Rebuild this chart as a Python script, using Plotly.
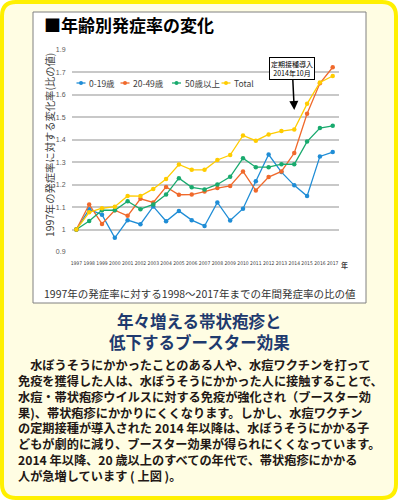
import plotly.graph_objects as go

# ---------------- data ----------------
years = list(range(1997, 2018))
age_0_19 = [1.0, 1.09, 1.066, 0.963, 1.042, 1.024, 1.103, 1.037, 1.083, 1.042, 1.016,
            1.121, 1.04, 1.093, 1.215, 1.334, 1.256, 1.197, 1.149, 1.326, 1.345]
age_20_49 = [1.0, 1.112, 1.025, 1.086, 1.061, 1.137, 1.121, 1.19, 1.155, 1.156, 1.169,
             1.185, 1.194, 1.259, 1.174, 1.234, 1.259, 1.341, 1.516, 1.652, 1.723]
age_50_plus = [1.0, 1.038, 1.086, 1.086, 1.126, 1.091, 1.112, 1.156, 1.229, 1.188, 1.179,
               1.201, 1.235, 1.318, 1.278, 1.278, 1.291, 1.291, 1.392, 1.452, 1.462]
total = [1.0, 1.077, 1.095, 1.102, 1.15, 1.149, 1.181, 1.225, 1.29, 1.266, 1.266,
         1.31, 1.332, 1.419, 1.396, 1.424, 1.439, 1.446, 1.56, 1.655, 1.684]
series_names = ["0-19歳", "20-49歳", "50歳以上", "Total"]
series_values = [age_0_19, age_20_49, age_50_plus, total]
series_colors = ["#1F8DD6", "#F0692B", "#19AA6E", "#FFCC00"]
y_tick_vals = [0.9, 1.0, 1.1, 1.2, 1.3, 1.4, 1.5, 1.6, 1.7, 1.8]
y_tick_text = ["0.9", "1", "1.1", "1.2", "1.3", "1.4", "1.5", "1.6", "1.7", "1.9"]
x_tick_text = [str(y) for y in years]
marker_year = 2014
marker_value = 1.533

title_text = "■年齢別発症率の変化"
y_title = "1997年の発症率に対する変化率(比の値)"
caption = "1997年の発症率に対する1998～2017年までの年間発症率の比の値"
heading_lines = ["年々増える帯状疱疹と", "低下するブースター効果"]
body_lines = [
    "　水ぼうそうにかかったことのある人や、水痘ワクチンを打って",
    "免疫を獲得した人は、水ぼうそうにかかった人に接触することで、",
    "水痘・帯状疱疹ウイルスに対する免疫が強化され（ブースター効",
    "果)、帯状疱疹にかかりにくくなります。しかし、水痘ワクチン",
    "の定期接種が導入された 2014 年以降は、水ぼうそうにかかる子",
    "どもが劇的に減り、ブースター効果が得られにくくなっています。",
    "2014 年以降、20 歳以上のすべての年代で、帯状疱疹にかかる",
    "人が急増しています ( 上図 )。",
]

# ---------------- layout helpers ----------------
W, H = 398, 500
L, R, T, B = 72, 339, 50, 252
JP = "Noto Sans CJK JP"


def xp(px):
    return (px - L) / (R - L)


def yp(py):
    return (B - py) / (B - T)


fig = go.Figure()
for name, vals, col in zip(series_names, series_values, series_colors):
    fig.add_trace(go.Scatter(
        x=years, y=vals, name=name, mode="lines+markers",
        line=dict(color=col, width=1.3),
        marker=dict(color=col, size=4.5, symbol="circle"),
        showlegend=False,
    ))

shapes = []
# outer rounded yellow frame
x0, x1, y0, y1, r = 2, 396, 2, 498, 14
pts = [("M", x0 + r, y0), ("L", x1 - r, y0), ("Q", x1, y0, x1, y0 + r), ("L", x1, y1 - r),
       ("Q", x1, y1, x1 - r, y1), ("L", x0 + r, y1), ("Q", x0, y1, x0, y1 - r),
       ("L", x0, y0 + r), ("Q", x0, y0, x0 + r, y0)]
path = ""
for p in pts:
    cmd = p[0]
    coords = p[1:]
    segs = []
    for i in range(0, len(coords), 2):
        segs.append(f"{xp(coords[i]):.5f},{yp(coords[i + 1]):.5f}")
    path += cmd + " " + " ".join(segs) + " "
path += "Z"
shapes.append(dict(type="path", path=path, xref="paper", yref="paper",
                   fillcolor="#FFFDE3", line=dict(color="#FFF000", width=4), layer="below"))
# white chart box
shapes.append(dict(type="rect", xref="paper", yref="paper",
                   x0=xp(33), x1=xp(366), y0=yp(12), y1=yp(303),
                   fillcolor="white", line=dict(color="#808080", width=1), layer="below"))

annotations = []
# title
annotations.append(dict(text=title_text, xref="paper", yref="paper", x=xp(42), y=yp(25),
                        xanchor="left", yanchor="middle", showarrow=False,
                        font=dict(family=JP, size=17, color="black", weight="bold")))
# legend (manual)
legend_sym_x = [81, 125, 176.5, 226]
for name, col, sx in zip(series_names, series_colors, legend_sym_x):
    shapes.append(dict(type="line", xref="paper", yref="paper",
                       x0=xp(sx - 4.5), x1=xp(sx + 4.5), y0=yp(83), y1=yp(83),
                       line=dict(color=col, width=1.3)))
    shapes.append(dict(type="circle", xref="paper", yref="paper",
                       x0=xp(sx - 2), x1=xp(sx + 2), y0=yp(85), y1=yp(81),
                       fillcolor=col, line=dict(color=col, width=0)))
    annotations.append(dict(text=name, xref="paper", yref="paper", x=xp(sx + 6), y=yp(83),
                            xanchor="left", yanchor="middle", showarrow=False,
                            font=dict(family=JP, size=8.5, color="#404040")))
# y title
annotations.append(dict(text=y_title, xref="paper", yref="paper", x=xp(49), y=yp(145),
                        xanchor="center", yanchor="middle", textangle=-90, showarrow=False,
                        font=dict(family=JP, size=10.3, color="#404040")))
# year unit
annotations.append(dict(text="年", xref="paper", yref="paper", x=xp(344), y=yp(265),
                        xanchor="center", yanchor="middle", showarrow=False,
                        font=dict(family=JP, size=7, color="#404040", weight="bold")))
# caption
annotations.append(dict(text=caption, xref="paper", yref="paper", x=xp(200), y=yp(293),
                        xanchor="center", yanchor="middle", showarrow=False,
                        font=dict(family=JP, size=10.5, color="#333333")))
# arrow annotation
annotations.append(dict(text="定期接種導入<br>2014年10月", x=marker_year, y=marker_value,
                        xref="x", yref="y", ax=-2, ay=-41.5, showarrow=True,
                        arrowhead=2, arrowsize=1.2, arrowwidth=1.5, arrowcolor="black",
                        bgcolor="white", bordercolor="black", borderwidth=1, borderpad=1,
                        font=dict(family=JP, size=7, color="black")))
# headings
annotations.append(dict(text="<br>".join(heading_lines), xref="paper", yref="paper",
                        x=xp(199), y=yp(331.5), xanchor="center", yanchor="middle",
                        align="center", showarrow=False,
                        font=dict(family=JP, size=16.5, color="#1E3A6E", weight="bold")))
# body text
annotations.append(dict(text="<br>".join(body_lines), xref="paper", yref="paper",
                        x=xp(16), y=yp(421), xanchor="left", yanchor="middle",
                        align="left", showarrow=False,
                        font=dict(family=JP, size=12.2, color="#231815", weight="bold")))

fig.update_layout(
    width=W, height=H, autosize=False,
    margin=dict(l=L, r=W - R, t=T, b=H - B, pad=0, autoexpand=False),
    paper_bgcolor="white", plot_bgcolor="rgba(0,0,0,0)",
    shapes=shapes, annotations=annotations,
    xaxis=dict(range=[1996.66, 2017.49], tickvals=years, ticktext=x_tick_text,
               showgrid=False, zeroline=False, showline=False, automargin=False,
               ticks="outside", ticklen=6, tickcolor="rgba(0,0,0,0)",
               tickfont=dict(family="Liberation Sans Narrow, DejaVu Sans Condensed, Liberation Sans",
                             size=5, color="#404040"),
               tickangle=0),
    yaxis=dict(range=[0.9, 1.8], tickvals=y_tick_vals, ticktext=y_tick_text,
               showgrid=True, gridcolor="#C8C8C8", gridwidth=1.8, zeroline=False, showline=False,
               automargin=False,
               ticks="outside", ticklen=4, tickcolor="rgba(0,0,0,0)",
               tickfont=dict(family="Liberation Sans", size=7, color="#595959")),
)

fig.write_html("out.html", config={"displayModeBar": False},
               post_script="document.body.style.margin='0';document.body.style.padding='0';")
